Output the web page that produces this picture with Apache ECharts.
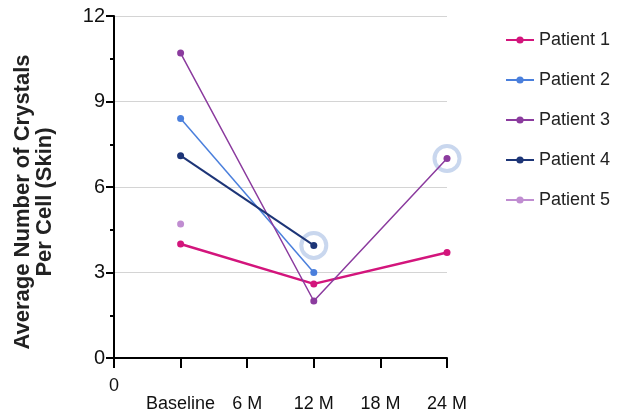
<!DOCTYPE html>
<html>
<head>
<meta charset="utf-8">
<script src="https://cdn.jsdelivr.net/npm/echarts@6/dist/echarts.min.js"></script>
<style>html,body{margin:0;padding:0;background:#fff;}#c{width:618px;height:420px;}</style>
</head>
<body>
<div id="c"></div>
<script>
var tickLabels = ['0', 'Baseline', '6 M', '12 M', '18 M', '24 M'];
var timepoints = [1, 3, 5];
var patientNames = ['Patient 1', 'Patient 2', 'Patient 3', 'Patient 4', 'Patient 5'];
var patient1 = [4.0, 2.6, 3.7];
var patient2 = [8.4, 3.0, null];
var patient3 = [10.7, 2.0, 7.0];
var patient4 = [7.1, 3.95, null];
var patient5 = [4.7, null, null];
var highlightX = [3, 5];
var highlightY = [3.95, 7.0];
var colors = ['#d3157c', '#4a7fdc', '#8b3b9e', '#1d3577', '#c08dd1'];
var widths = [2.5, 1.5, 1.5, 2, 1.5];

var values = [patient1, patient2, patient3, patient4, patient5];
var FONT = '"Liberation Sans", Arial, sans-serif';

function pairs(ys) {
  return timepoints.map(function (x, i) { return [x, ys[i]]; }).filter(function (p) { return p[1] !== null; });
}

var series = values.map(function (ys, i) {
  return {
    name: patientNames[i],
    type: 'line',
    data: pairs(ys),
    color: colors[i],
    symbol: 'circle',
    symbolSize: 7,
    lineStyle: { width: widths[i], color: colors[i] },
    itemStyle: { color: colors[i] },
    z: 3
  };
});
series.unshift({
  name: 'highlight',
  type: 'scatter',
  data: highlightX.map(function (x, i) { return [x, highlightY[i]]; }),
  symbol: 'circle',
  symbolSize: 25,
  itemStyle: { color: 'rgba(0,0,0,0)', borderColor: '#bccdea', borderWidth: 4 },
  z: 2,
  silent: true
});

var chart = echarts.init(document.getElementById('c'));
chart.setOption({
  animation: false,
  backgroundColor: '#fff',
  textStyle: { fontFamily: FONT },
  grid: { left: 114, right: 171, top: 16, bottom: 62, containLabel: false },
  legend: {
    data: patientNames,
    orient: 'vertical',
    left: 500,
    top: 26,
    itemWidth: 28,
    itemHeight: 9,
    itemGap: 22,
    textStyle: { fontSize: 18, color: '#222', fontFamily: FONT }
  },
  xAxis: {
    type: 'value',
    min: 0,
    max: 5,
    interval: 1,
    axisLine: { show: true, lineStyle: { color: '#000', width: 2 } },
    axisTick: { show: true, length: 10, lineStyle: { color: '#000', width: 2 } },
    splitLine: { show: false },
    axisLabel: {
      margin: 19,
      fontSize: 18,
      color: '#111',
      lineHeight: 18,
      fontFamily: FONT,
      formatter: function (v) {
        var t = tickLabels[Math.round(v)];
        return v === 0 ? t : '\n' + t;
      }
    }
  },
  yAxis: {
    type: 'value',
    min: 0,
    max: 12,
    interval: 3,
    name: 'Average Number of Crystals\nPer Cell (Skin)',
    nameLocation: 'middle',
    nameGap: 58,
    nameRotate: 90,
    nameTextStyle: { fontSize: 22, fontWeight: 'bold', color: '#222', lineHeight: 22, fontFamily: FONT, padding: [0, 30, 0, 0] },
    axisLine: { show: true, lineStyle: { color: '#000', width: 2 } },
    axisTick: { show: true, length: 8, lineStyle: { color: '#000', width: 2 } },
    minorTick: { show: true, splitNumber: 2, length: 4, lineStyle: { color: '#000', width: 2 } },
    splitLine: { show: true, lineStyle: { color: '#d4d4d4', width: 1 } },
    axisLabel: { margin: 9, fontSize: 20, color: '#111', fontFamily: FONT }
  },
  series: series
});
</script>
</body>
</html>
